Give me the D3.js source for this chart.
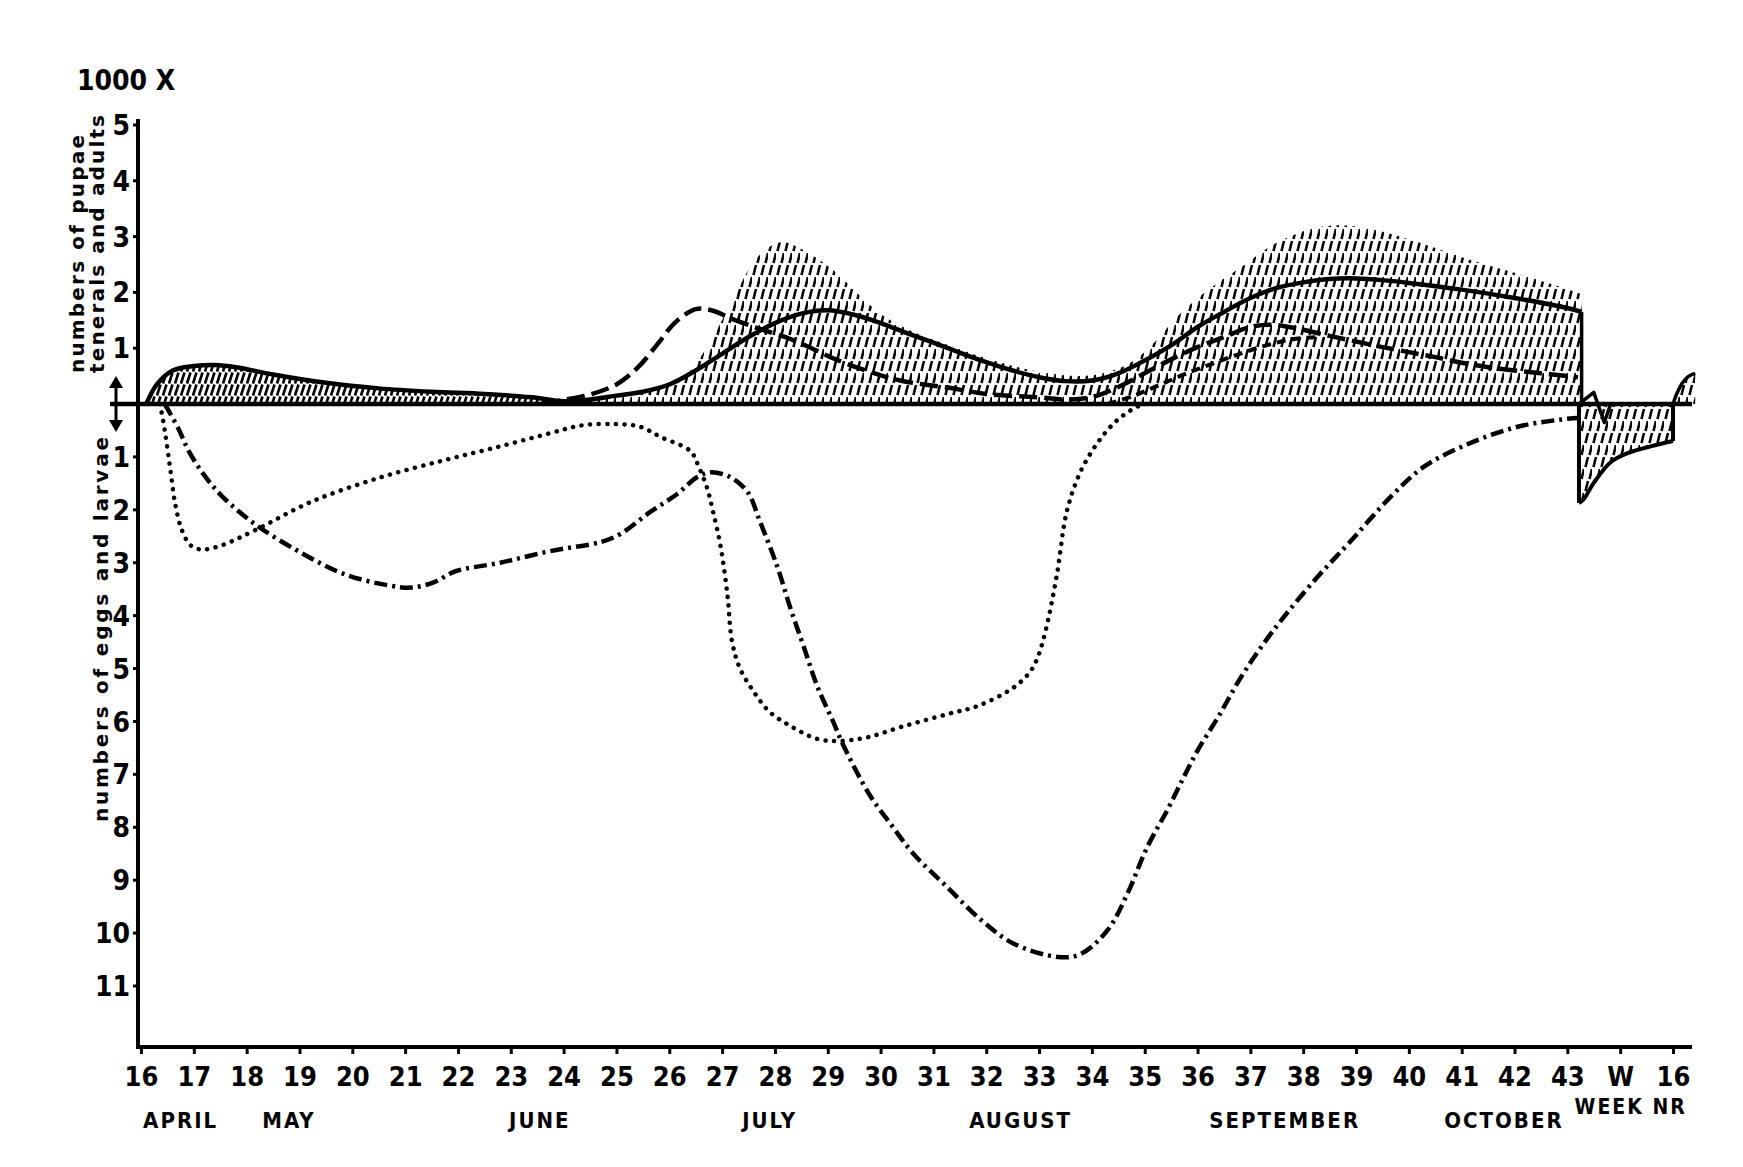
<!DOCTYPE html>
<meta charset="utf-8">
<style>
    body { margin: 0; background: #fff; }
    svg { display: block; }
    .lbl {
        font-family: "Liberation Sans Narrow", "DejaVu Sans Condensed", "Arial Narrow", sans-serif;
        font-weight: bold;
        fill: #000;
    }
    .ttl {
        font-family: "DejaVu Sans", "Liberation Sans", sans-serif;
        font-weight: bold;
        fill: #000;
    }
</style>
<body>
<script src="https://d3js.org/d3.v7.min.js"></script>
<script>

    // x axis: 16..43 are week numbers, 44 = "W", 45 = week 16 of the next year
    var weekTicks = d3.range(16, 46);
    var weekLabels = ["16","17","18","19","20","21","22","23","24","25","26","27","28","29","30",
                      "31","32","33","34","35","36","37","38","39","40","41","42","43","W","16"];
    var months = ["APRIL", "MAY", "JUNE", "JULY", "AUGUST", "SEPTEMBER", "OCTOBER"];
    var monthWeek = [16.75, 18.8, 23.55, 27.9, 32.65, 37.65, 41.8];
    var upperTicks = [1, 2, 3, 4, 5];
    var lowerTicks = [1, 2, 3, 4, 5, 6, 7, 8, 9, 10, 11];

    // upper half (x1000): solid line
    var solid = [[16.1,0],[16.3,0.35],[16.6,0.6],[17.0,0.68],[17.4,0.7],[17.8,0.66],[18.5,0.53],
        [19.5,0.38],[20.5,0.28],[21.5,0.22],[22.5,0.18],[23.4,0.12],[24.0,0.05],[24.5,0.08],
        [25.0,0.15],[25.5,0.22],[26.0,0.35],[26.5,0.6],[27.0,0.9],[27.5,1.2],[28.0,1.45],
        [28.5,1.62],[29.0,1.68],[29.5,1.6],[30.0,1.45],[30.5,1.27],[31.0,1.1],[31.5,0.92],
        [32.0,0.75],[32.5,0.6],[33.0,0.48],[33.5,0.41],[34.0,0.42],[34.5,0.55],[35.0,0.78],
        [35.5,1.05],[36.0,1.38],[36.5,1.65],[37.0,1.9],[37.5,2.08],[38.0,2.18],[38.5,2.24],
        [39.0,2.25],[39.5,2.22],[40.0,2.17],[41.0,2.05],[42.0,1.9],[43.0,1.72],[43.27,1.65]];

    // long dashed line
    var dashed = [[23.6,0],[24.0,0.07],[24.5,0.17],[25.0,0.35],[25.4,0.65],[25.8,1.1],[26.1,1.45],
        [26.5,1.7],[26.8,1.68],[27.2,1.52],[27.7,1.35],[28.2,1.2],[28.6,1.04],[29.1,0.82],
        [29.75,0.59],[30.37,0.42],[31.3,0.29],[32.0,0.18],[33.0,0.12],[33.6,0.08],[34.1,0.15],
        [34.6,0.35],[35.0,0.55],[35.5,0.8],[36.0,1.02],[36.5,1.2],[37.0,1.38],[37.4,1.42],
        [37.9,1.35],[38.5,1.22],[39.0,1.12],[39.5,1.02],[40.0,0.93],[40.5,0.84],[41.0,0.74],
        [41.5,0.66],[42.0,0.6],[42.5,0.55],[43.0,0.5],[43.2,0.48]];

    // short dashed line (second peak only)
    var shortDashed = [[34.3,0],[34.8,0.15],[35.3,0.35],[35.8,0.55],[36.3,0.73],[36.8,0.9],
        [37.3,1.05],[37.8,1.16],[38.3,1.2]];

    // top of the hatched area
    var total = [[23.8,0.1],[24.5,0.09],[25.0,0.15],[25.5,0.23],[26.0,0.38],[26.4,0.6],[26.7,1.0],
        [27.0,1.5],[27.3,2.05],[27.6,2.55],[27.9,2.82],[28.15,2.9],[28.5,2.78],[29.1,2.4],
        [29.6,1.95],[30.05,1.58],[30.6,1.3],[31.3,1.05],[32.0,0.82],[32.6,0.66],[33.2,0.55],
        [33.8,0.5],[34.4,0.6],[34.8,0.78],[35.2,1.12],[35.6,1.55],[36.1,1.97],[36.5,2.25],
        [36.9,2.5],[37.3,2.78],[37.75,3.0],[38.2,3.15],[38.6,3.2],[39.0,3.18],[39.45,3.1],
        [40.3,2.86],[41.1,2.6],[42.0,2.35],[42.8,2.12],[43.27,1.97]];

    // lower half (x1000): dotted line
    var dotted = [[16.36,0],[16.45,0.5],[16.55,1.2],[16.65,1.9],[16.78,2.4],[16.95,2.68],[17.15,2.75],
        [17.5,2.68],[18.17,2.38],[19.22,1.85],[20.49,1.4],[21.75,1.06],[22.8,0.8],[23.75,0.55],
        [24.37,0.4],[25.0,0.38],[25.45,0.43],[25.83,0.62],[26.4,0.89],[26.55,1.17],[26.72,1.6],
        [26.83,2.04],[26.97,2.68],[27.1,3.6],[27.19,4.5],[27.34,5.0],[27.6,5.44],[27.9,5.82],
        [28.3,6.09],[28.8,6.33],[29.2,6.37],[29.75,6.3],[30.4,6.1],[31.27,5.86],[31.86,5.7],
        [32.5,5.37],[32.8,5.1],[32.95,4.85],[33.12,4.3],[33.33,3.27],[33.54,1.97],[33.86,1.13],
        [34.38,0.4],[34.8,0.08],[35.0,0]];

    // dash-dot line
    var dashDot = [[16.45,0],[16.7,0.45],[16.91,0.9],[17.2,1.35],[17.54,1.75],[18.17,2.28],[19.01,2.8],
        [19.86,3.22],[20.7,3.43],[21.12,3.47],[21.54,3.37],[21.96,3.16],[22.8,3.0],[23.75,2.78],
        [24.7,2.61],[25.07,2.46],[25.64,2.04],[26.15,1.7],[26.53,1.38],[26.78,1.29],[27.15,1.38],
        [27.48,1.66],[27.72,2.23],[28.04,3.06],[28.3,3.88],[28.54,4.57],[28.8,5.33],[29.1,6.0],
        [29.3,6.46],[29.8,7.4],[30.2,7.95],[30.62,8.5],[31.26,9.13],[31.9,9.75],[32.52,10.2],
        [33.35,10.45],[33.78,10.4],[34.3,9.94],[34.67,9.26],[35.05,8.37],[35.43,7.67],[35.74,7.05],
        [36.0,6.55],[36.4,5.9],[36.8,5.2],[37.2,4.6],[37.63,4.03],[38.27,3.27],[38.9,2.59],
        [39.65,1.76],[40.28,1.19],[41.11,0.76],[42.06,0.43],[43.0,0.28],[43.27,0.26]];

    // hatched block under the line after week 43 (lower scale)
    var winter = [[43.22,1.87],[43.31,1.8],[43.5,1.49],[43.82,1.1],[44.14,0.93],[44.58,0.8],[45.0,0.7]];
    var wiggle = [[43.22,0],[43.5,-0.22],[43.7,0.35],[43.82,0]];
    // small rise at the far right (upper scale)
    var spring = [[45.0,0],[45.08,0.2],[45.18,0.38],[45.3,0.5],[45.42,0.55]];

    var width = 1743, height = 1167;

    var x = d3.scaleLinear().domain([16, 45]).range([141, 1673]);
    var yU = d3.scaleLinear().domain([0, 5]).range([404, 125]);
    var yL = d3.scaleLinear().domain([0, 11]).range([404, 986]);

    var svg = d3.select("body").append("svg").attr("width", width).attr("height", height);
    svg.append("rect").attr("width", width).attr("height", height).attr("fill", "#fff");

    // hatch patterns
    var defs = svg.append("defs");
    var dense = defs.append("pattern").attr("id", "dense").attr("patternUnits", "userSpaceOnUse")
        .attr("width", 6).attr("height", 12);
    dense.append("path").attr("d", "M1,11.5L4.5,0.5").attr("stroke", "#000").attr("stroke-width", 2.6);
    var sparse = defs.append("pattern").attr("id", "sparse").attr("patternUnits", "userSpaceOnUse")
        .attr("width", 8).attr("height", 24);
    sparse.append("path").attr("d", "M1.5,11L4,1M5.5,23L8,13").attr("stroke", "#000").attr("stroke-width", 2.6);

    var curve = d3.curveCatmullRom.alpha(0.5);
    var lineU = d3.line().x(function(d) { return x(d[0]); }).y(function(d) { return yU(d[1]); }).curve(curve);
    var lineL = d3.line().x(function(d) { return x(d[0]); }).y(function(d) { return yL(d[1]); }).curve(curve);
    var straightU = d3.line().x(function(d) { return x(d[0]); }).y(function(d) { return yU(d[1]); });
    var straightL = d3.line().x(function(d) { return x(d[0]); }).y(function(d) { return yL(d[1]); });
    var areaU = d3.area().x(function(d) { return x(d[0]); }).y0(yU(0)).y1(function(d) { return yU(d[1]); }).curve(curve);
    var areaL = d3.area().x(function(d) { return x(d[0]); }).y0(yL(0)).y1(function(d) { return yL(d[1]); }).curve(curve);

    // hatched areas
    svg.append("path").attr("d", areaU(solid.filter(function(d) { return d[0] <= 24.5; }))).attr("fill", "url(#dense)");
    svg.append("path").attr("d", areaU(total)).attr("fill", "url(#sparse)");
    svg.append("path").attr("d", areaL(winter)).attr("fill", "url(#sparse)");
    svg.append("path").attr("d", areaU(spring)).attr("fill", "url(#sparse)");

    // baseline
    svg.append("line").attr("x1", 110).attr("x2", 1692).attr("y1", yU(0)).attr("y2", yU(0))
        .attr("stroke", "#000").attr("stroke-width", 4.5);

    // the lines
    var thick = 4.5;
    svg.append("path").attr("d", lineU(solid)).attr("fill", "none").attr("stroke", "#000")
        .attr("stroke-width", thick).attr("stroke-linejoin", "round");
    svg.append("path").attr("d", straightU([solid[solid.length - 1], [solid[solid.length - 1][0], 0]]))
        .attr("fill", "none").attr("stroke", "#000").attr("stroke-width", 3.5);
    svg.append("path").attr("d", lineU(dashed)).attr("fill", "none").attr("stroke", "#000")
        .attr("stroke-width", thick).attr("stroke-dasharray", "18 7");
    svg.append("path").attr("d", lineU(shortDashed)).attr("fill", "none").attr("stroke", "#000")
        .attr("stroke-width", 4).attr("stroke-dasharray", "9 6");
    svg.append("path").attr("d", lineL(dotted)).attr("fill", "none").attr("stroke", "#000")
        .attr("stroke-width", 4.5).attr("stroke-linecap", "round").attr("stroke-dasharray", "0.1 8.5");
    svg.append("path").attr("d", lineL(dashDot)).attr("fill", "none").attr("stroke", "#000")
        .attr("stroke-width", 4.5).attr("stroke-dasharray", "13 5 3 5");

    // outline of the late season block
    svg.append("path").attr("d", lineL(winter)).attr("fill", "none").attr("stroke", "#000").attr("stroke-width", 4);
    svg.append("path").attr("d", straightL([[winter[0][0], 0], winter[0]])).attr("stroke", "#000").attr("stroke-width", 4);
    var last = winter[winter.length - 1];
    svg.append("path").attr("d", straightL([last, [last[0], 0]])).attr("stroke", "#000").attr("stroke-width", 4);
    svg.append("path").attr("d", straightL(wiggle)).attr("fill", "none").attr("stroke", "#000")
        .attr("stroke-width", 3.5).attr("stroke-linejoin", "round");
    svg.append("path").attr("d", lineU(spring)).attr("fill", "none").attr("stroke", "#000").attr("stroke-width", 3.5);

    // y axis
    svg.append("line").attr("x1", 138).attr("x2", 138).attr("y1", 119).attr("y2", 1049)
        .attr("stroke", "#000").attr("stroke-width", 4);
    svg.selectAll(".tu").data(upperTicks).enter().append("line")
        .attr("x1", 133).attr("x2", 138).attr("y1", yU).attr("y2", yU)
        .attr("stroke", "#000").attr("stroke-width", 3);
    svg.selectAll(".tl").data(lowerTicks).enter().append("line")
        .attr("x1", 133).attr("x2", 138).attr("y1", yL).attr("y2", yL)
        .attr("stroke", "#000").attr("stroke-width", 3);
    svg.selectAll(".lu").data(upperTicks).enter().append("text").attr("class", "lbl")
        .attr("x", 130).attr("y", yU).attr("dy", "0.36em").attr("text-anchor", "end")
        .style("font-size", "28px").text(function(d) { return d; });
    svg.selectAll(".ll").data(lowerTicks).enter().append("text").attr("class", "lbl")
        .attr("x", 130).attr("y", yL).attr("dy", "0.36em").attr("text-anchor", "end")
        .style("font-size", "28px").text(function(d) { return d; });

    // double arrow at zero
    var ax = 116, y0 = yU(0);
    svg.append("line").attr("x1", ax).attr("x2", ax).attr("y1", y0 - 22).attr("y2", y0 + 22)
        .attr("stroke", "#000").attr("stroke-width", 3);
    svg.append("path").attr("d", "M" + (ax - 7) + "," + (y0 - 16) + "L" + ax + "," + (y0 - 28) + "L" + (ax + 7) + "," + (y0 - 16) + "Z");
    svg.append("path").attr("d", "M" + (ax - 7) + "," + (y0 + 16) + "L" + ax + "," + (y0 + 28) + "L" + (ax + 7) + "," + (y0 + 16) + "Z");

    // x axis
    svg.append("line").attr("x1", 136).attr("x2", 1692).attr("y1", 1047).attr("y2", 1047)
        .attr("stroke", "#000").attr("stroke-width", 4);
    var xAxis = svg.append("g").attr("transform", "translate(0,1047)")
        .call(d3.axisBottom(x).tickValues(weekTicks).tickSize(7).tickSizeOuter(0).tickPadding(13)
            .tickFormat(function(d, i) { return weekLabels[i]; }));
    xAxis.select(".domain").remove();
    xAxis.selectAll(".tick line").attr("stroke", "#000").attr("stroke-width", 3);
    xAxis.selectAll(".tick text").attr("class", "lbl").style("font-size", "27px").attr("fill", "#000");

    // month names
    svg.selectAll(".mn").data(months).enter().append("text").attr("class", "lbl")
        .attr("x", function(d, i) { return x(monthWeek[i]); }).attr("y", 1128)
        .attr("text-anchor", "middle").style("font-size", "22px").style("letter-spacing", "2px")
        .text(function(d) { return d; });
    svg.append("text").attr("class", "lbl").attr("x", x(44.2)).attr("y", 1114)
        .attr("text-anchor", "middle").style("font-size", "21px").style("letter-spacing", "2px").text("WEEK NR");

    // unit and axis titles
    svg.append("text").attr("class", "lbl").attr("x", 77).attr("y", 90)
        .style("font-size", "28px").text("1000 X");
    svg.append("text").attr("class", "ttl").attr("transform", "translate(84,373) rotate(-90)")
        .attr("textLength", 238).attr("lengthAdjust", "spacing").style("font-size", "20px")
        .text("numbers of pupae");
    svg.append("text").attr("class", "ttl").attr("transform", "translate(104,373) rotate(-90)")
        .attr("textLength", 258).attr("lengthAdjust", "spacing").style("font-size", "20px")
        .text("tenerals and adults");
    svg.append("text").attr("class", "ttl").attr("transform", "translate(108,822) rotate(-90)")
        .attr("textLength", 385).attr("lengthAdjust", "spacing").style("font-size", "20px")
        .text("numbers of eggs and larvae");
</script>
</body>
